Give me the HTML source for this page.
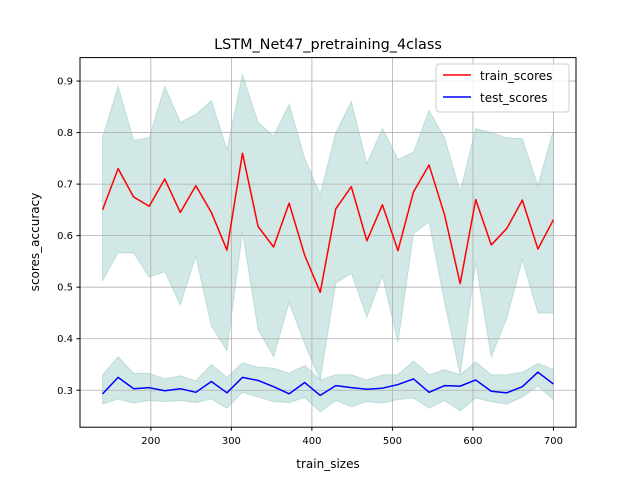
<!DOCTYPE html>
<html><head><meta charset="utf-8"><style>
html,body{margin:0;padding:0;background:#fff;}
svg{display:block;font-family:"DejaVu Sans","Liberation Sans",sans-serif;}
</style></head><body>
<svg id="chart" width="640" height="480" viewBox="0 0 640 480">
<rect width="640" height="480" fill="#fff"/>
<g id="fills"></g><g id="grid"></g><g id="lines"></g><g id="ticks"></g>
<rect x="80" y="57.6" width="496" height="369.6" fill="none" stroke="#000" stroke-width="1"/>
<text x="328" y="49" text-anchor="middle" font-size="14.4">LSTM_Net47_pretraining_4class</text>
<text x="328" y="468" text-anchor="middle" font-size="12">train_sizes</text>
<text x="39" y="242" text-anchor="middle" font-size="12" transform="rotate(-90 39 242)">scores_accuracy</text>
<g>
<rect x="436" y="64" width="133" height="48" rx="3" fill="#fff" fill-opacity="0.8" stroke="#ccc"/>
<g><line x1="443" y1="75" x2="471" y2="75" stroke="#f00" stroke-width="1.5"/><text x="480" y="80" font-size="12">train_scores</text></g>
<g><line x1="443" y1="97" x2="471" y2="97" stroke="#00f" stroke-width="1.5"/><text x="480" y="102" font-size="12">test_scores</text></g>
</g>
</svg>
<script>
const trainMean=[0.65,0.73,0.675,0.657,0.71,0.645,0.697,0.645,0.572,0.76,0.618,0.578,0.663,0.562,0.49,0.652,0.695,0.59,0.66,0.571,0.685,0.737,0.64,0.507,0.67,0.582,0.614,0.669,0.574,0.631];
const trainUpper=[0.79,0.89,0.785,0.79,0.89,0.82,0.835,0.862,0.767,0.912,0.82,0.793,0.855,0.75,0.68,0.8,0.86,0.74,0.808,0.748,0.762,0.843,0.79,0.685,0.808,0.8,0.79,0.788,0.697,0.805];
const trainLower=[0.513,0.567,0.566,0.52,0.53,0.466,0.56,0.425,0.377,0.607,0.418,0.365,0.47,0.39,0.32,0.508,0.527,0.442,0.522,0.393,0.604,0.627,0.47,0.33,0.548,0.365,0.44,0.553,0.45,0.45];
const testMean=[0.293,0.325,0.303,0.305,0.299,0.303,0.296,0.317,0.295,0.325,0.319,0.307,0.293,0.315,0.29,0.309,0.305,0.302,0.304,0.311,0.322,0.296,0.309,0.308,0.32,0.298,0.295,0.307,0.335,0.312];
const testUpper=[0.33,0.365,0.333,0.333,0.322,0.328,0.318,0.35,0.325,0.353,0.345,0.343,0.333,0.348,0.32,0.33,0.33,0.32,0.33,0.33,0.357,0.33,0.34,0.33,0.355,0.33,0.33,0.335,0.352,0.34];
const testLower=[0.273,0.283,0.275,0.28,0.278,0.28,0.276,0.283,0.265,0.296,0.287,0.278,0.276,0.286,0.258,0.28,0.268,0.278,0.275,0.282,0.285,0.265,0.28,0.26,0.285,0.278,0.273,0.287,0.308,0.282];
const xStart=140, xEnd=700;
const xTicks=[200,300,400,500,600,700];
const yTicks=[0.3,0.4,0.5,0.6,0.7,0.8,0.9];

const NS="http://www.w3.org/2000/svg";
const n=trainMean.length;
const sizes=trainMean.map((_,i)=>xStart+(xEnd-xStart)*i/(n-1));
const x0=xStart-(xEnd-xStart)*0.05, x1=xEnd+(xEnd-xStart)*0.05;
const yMin=0.2283, yMax=0.9455;
const X=v=>80+(v-x0)/(x1-x0)*496;
const Y=v=>427.2-(v-yMin)/(yMax-yMin)*369.6;
function mk(tag,attrs,parent){const e=document.createElementNS(NS,tag);for(const k in attrs)e.setAttribute(k,attrs[k]);document.getElementById(parent).appendChild(e);return e;}
function band(up,lo,name){
  let d=sizes.map((s,i)=>(i?'L':'M')+X(s)+','+Y(up[i])).join('');
  for(let i=n-1;i>=0;i--)d+='L'+X(sizes[i])+','+Y(lo[i]);
  const p=mk('path',{d:d+'Z',fill:'#1f8a80','fill-opacity':0.2,stroke:'#1f8a80','stroke-opacity':0.2},'fills');
  
  
}
band(trainUpper,trainLower,'train-band');
band(testUpper,testLower,'test-band');
xTicks.forEach(t=>{
  const g=mk('line',{x1:X(t),x2:X(t),y1:57.6,y2:427.2,stroke:'#b0b0b0','stroke-width':0.8},'grid');
  
  
  mk('line',{x1:X(t),x2:X(t),y1:427.2,y2:430.7,stroke:'#000'},'ticks');
  const tx=mk('text',{x:X(t),y:444,'text-anchor':'middle','font-size':10},'ticks');
  tx.textContent=t;
  
  
});
yTicks.forEach(t=>{
  const g=mk('line',{x1:80,x2:576,y1:Y(t),y2:Y(t),stroke:'#b0b0b0','stroke-width':0.8},'grid');
  
  
  mk('line',{x1:76.5,x2:80,y1:Y(t),y2:Y(t),stroke:'#000'},'ticks');
  const tx=mk('text',{x:73,y:Y(t)+3.5,'text-anchor':'end','font-size':10},'ticks');
  tx.textContent=t.toFixed(1);
  
  
});
function line(vals,color,name){
  const p=mk('polyline',{points:sizes.map((s,i)=>X(s)+','+Y(vals[i])).join(' '),fill:'none',stroke:color,'stroke-width':1.5,'stroke-linejoin':'round'},'lines');
  
  
}
line(trainMean,'#f00','train-scores-line');
line(testMean,'#00f','test-scores-line');
</script>
</body></html>
